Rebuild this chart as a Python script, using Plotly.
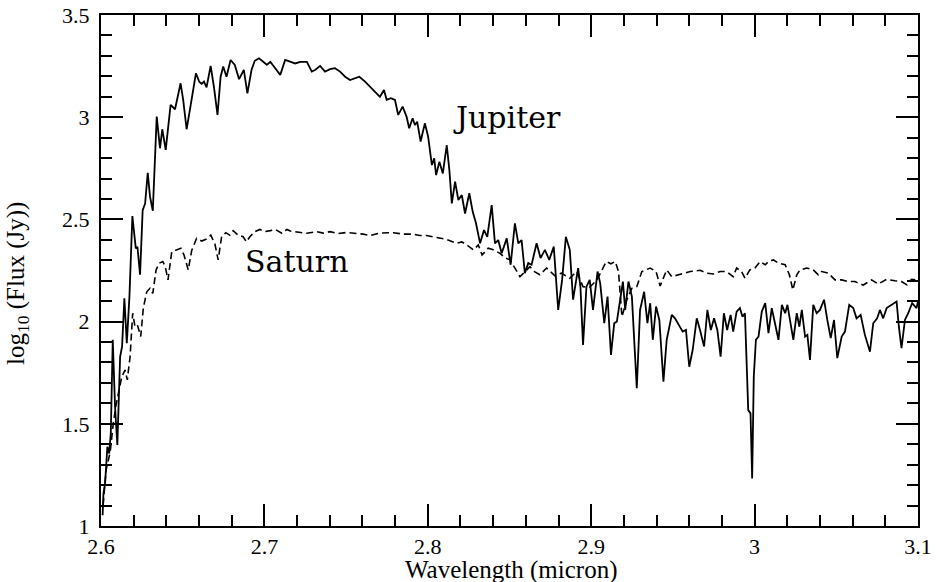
import plotly.graph_objects as go

# Jupiter spectrum (wavelength in micron, log10 flux in Jy)
jup_wl = [2.6010, 2.6015, 2.6025, 2.6039, 2.6050, 2.6060, 2.6072, 2.6086, 2.6100, 2.6117,
          2.6129, 2.6143, 2.6158, 2.6174, 2.6192, 2.6213, 2.6223, 2.6239, 2.6255, 2.6270,
          2.6286, 2.6300, 2.6317, 2.6341, 2.6361, 2.6375, 2.6396, 2.6426, 2.6453, 2.6487,
          2.6503, 2.6524, 2.6544, 2.6581, 2.6601, 2.6616, 2.6630, 2.6646, 2.6671, 2.6691,
          2.6713, 2.6732, 2.6748, 2.6768, 2.6793, 2.6819, 2.6845, 2.6874, 2.6896, 2.6921,
          2.6941, 2.6967, 2.6993, 2.7015, 2.7036, 2.7097, 2.7127, 2.7158, 2.7188, 2.7219,
          2.7260, 2.7290, 2.7310, 2.7341, 2.7371, 2.7402, 2.7432, 2.7463, 2.7494, 2.7524,
          2.7555, 2.7581, 2.7616, 2.7646, 2.7677, 2.7707, 2.7732, 2.7748, 2.7774, 2.7799,
          2.7819, 2.7846, 2.7870, 2.7886, 2.7907, 2.7921, 2.7935, 2.7956, 2.7982, 2.8002,
          2.8025, 2.8039, 2.8051, 2.8071, 2.8092, 2.8116, 2.8132, 2.8147, 2.8167, 2.8187,
          2.8208, 2.8228, 2.8254, 2.8275, 2.8295, 2.8320, 2.8344, 2.8364, 2.8391, 2.8411,
          2.8431, 2.8452, 2.8483, 2.8507, 2.8533, 2.8554, 2.8574, 2.8594, 2.8615, 2.8635,
          2.8666, 2.8690, 2.8717, 2.8743, 2.8771, 2.8798, 2.8822, 2.8845, 2.8869, 2.8889,
          2.8920, 2.8934, 2.8950, 2.8971, 2.8991, 2.9011, 2.9039, 2.9055, 2.9080, 2.9100,
          2.9121, 2.9141, 2.9157, 2.9177, 2.9194, 2.9208, 2.9228, 2.9249, 2.9279, 2.9299,
          2.9324, 2.9344, 2.9361, 2.9377, 2.9397, 2.9417, 2.9442, 2.9462, 2.9493, 2.9513,
          2.9539, 2.9560, 2.9580, 2.9600, 2.9621, 2.9646, 2.9666, 2.9691, 2.9711, 2.9732,
          2.9752, 2.9772, 2.9792, 2.9812, 2.9832, 2.9853, 2.9869, 2.9890, 2.9910, 2.9926,
          2.9941, 2.9961, 2.9975, 2.9985, 2.9995, 3.0008, 3.0024, 3.0044, 3.0065, 3.0085,
          3.0105, 3.0126, 3.0146, 3.0167, 3.0187, 3.0201, 3.0217, 3.0237, 3.0258, 3.0274,
          3.0289, 3.0309, 3.0323, 3.0339, 3.0359, 3.0380, 3.0400, 3.0425, 3.0445, 3.0466,
          3.0486, 3.0506, 3.0533, 3.0553, 3.0579, 3.0604, 3.0624, 3.0649, 3.0675, 3.0706,
          3.0726, 3.0750, 3.0767, 3.0787, 3.0808, 3.0838, 3.0869, 3.0883, 3.0899, 3.0920,
          3.0940, 3.0964, 3.0991, 3.1000]
jup_flux = [1.053, 1.159, 1.208, 1.388, 1.355, 1.454, 1.911, 1.583, 1.396, 1.828,
            1.878, 2.114, 1.894, 2.122, 2.516, 2.358, 2.366, 2.229, 2.545, 2.578,
            2.728, 2.611, 2.542, 3.003, 2.848, 2.941, 2.840, 3.060, 3.039, 3.166,
            3.085, 2.941, 3.036, 3.215, 3.174, 3.163, 3.174, 3.146, 3.251, 3.149,
            3.011, 3.198, 3.248, 3.198, 3.280, 3.256, 3.186, 3.231, 3.117, 3.231,
            3.276, 3.288, 3.271, 3.256, 3.271, 3.207, 3.280, 3.271, 3.263, 3.271,
            3.271, 3.223, 3.231, 3.251, 3.223, 3.235, 3.240, 3.223, 3.198, 3.182,
            3.191, 3.198, 3.174, 3.149, 3.125, 3.100, 3.133, 3.085, 3.093, 3.085,
            3.011, 3.052, 3.003, 2.946, 2.995, 2.962, 2.978, 2.881, 2.970, 2.905,
            2.766, 2.799, 2.717, 2.782, 2.725, 2.864, 2.741, 2.578, 2.685, 2.595,
            2.619, 2.529, 2.628, 2.537, 2.481, 2.383, 2.448, 2.415, 2.570, 2.383,
            2.399, 2.334, 2.407, 2.278, 2.481, 2.383, 2.399, 2.237, 2.286, 2.278,
            2.383, 2.311, 2.351, 2.302, 2.367, 2.057, 2.204, 2.415, 2.351, 2.107,
            2.262, 2.171, 1.886, 2.171, 2.204, 2.057, 2.245, 2.188, 1.992, 2.122,
            1.837, 1.992, 2.000, 2.107, 2.196, 2.057, 2.196, 2.122, 1.674, 2.057,
            2.146, 1.992, 2.090, 1.911, 2.074, 2.008, 1.706, 1.911, 2.033, 2.016,
            1.983, 1.951, 1.959, 1.779, 1.861, 2.016, 1.959, 1.878, 2.057, 1.959,
            2.016, 1.959, 1.828, 2.041, 1.959, 2.033, 1.951, 2.049, 2.066, 2.024,
            2.041, 1.567, 1.551, 1.233, 1.730, 1.911, 1.927, 2.049, 2.090, 1.944,
            2.066, 1.992, 1.911, 2.082, 2.041, 2.082, 2.008, 1.911, 2.041, 1.975,
            2.057, 1.927, 1.935, 1.812, 2.082, 2.041, 2.057, 2.107, 2.008, 1.919,
            2.008, 1.821, 1.927, 1.951, 2.082, 2.066, 2.016, 2.033, 1.935, 1.853,
            1.992, 2.016, 2.057, 2.016, 2.066, 2.082, 2.098, 1.975, 1.870, 2.008,
            2.041, 2.090, 2.066, 2.100]

# Saturn spectrum
sat_wl = [2.6013, 2.6031, 2.6056, 2.6074, 2.6092, 2.6107, 2.6127, 2.6147, 2.6161, 2.6178,
          2.6194, 2.6208, 2.6223, 2.6243, 2.6259, 2.6280, 2.6300, 2.6317, 2.6337, 2.6357,
          2.6378, 2.6393, 2.6410, 2.6433, 2.6461, 2.6489, 2.6508, 2.6534, 2.6555, 2.6585,
          2.6616, 2.6646, 2.6672, 2.6697, 2.6717, 2.6738, 2.6764, 2.6788, 2.6809, 2.6839,
          2.6870, 2.6890, 2.6911, 2.6941, 2.6972, 2.7002, 2.7036, 2.7066, 2.7107, 2.7138,
          2.7158, 2.7199, 2.7260, 2.7321, 2.7360, 2.7402, 2.7451, 2.7504, 2.7555, 2.7605,
          2.7646, 2.7707, 2.7788, 2.7849, 2.7910, 2.7951, 2.7992, 2.8055, 2.8116, 2.8177,
          2.8208, 2.8239, 2.8279, 2.8309, 2.8332, 2.8370, 2.8401, 2.8442, 2.8472, 2.8503,
          2.8533, 2.8564, 2.8594, 2.8625, 2.8655, 2.8686, 2.8727, 2.8778, 2.8818, 2.8869,
          2.8910, 2.8950, 2.8991, 2.9035, 2.9066, 2.9092, 2.9121, 2.9147, 2.9167, 2.9188,
          2.9218, 2.9249, 2.9279, 2.9310, 2.9361, 2.9397, 2.9422, 2.9447, 2.9462, 2.9493,
          2.9544, 2.9606, 2.9667, 2.9707, 2.9748, 2.9789, 2.9829, 2.9869, 2.9890, 2.9920,
          2.9941, 2.9971, 3.0002, 3.0034, 3.0065, 3.0085, 3.0115, 3.0146, 3.0187, 3.0213,
          3.0234, 3.0258, 3.0278, 3.0319, 3.0359, 3.0390, 3.0411, 3.0451, 3.0492, 3.0533,
          3.0573, 3.0614, 3.0665, 3.0716, 3.0756, 3.0808, 3.0858, 3.0899, 3.0933, 3.0960,
          3.0991, 3.1000]
sat_flux = [1.102, 1.274, 1.361, 1.494, 1.592, 1.649, 1.730, 1.763, 1.715, 1.828,
            2.041, 1.975, 1.983, 1.927, 2.066, 2.146, 2.163, 2.138, 2.253, 2.286,
            2.294, 2.269, 2.204, 2.342, 2.351, 2.359, 2.326, 2.253, 2.348, 2.407,
            2.394, 2.404, 2.423, 2.380, 2.302, 2.415, 2.435, 2.423, 2.445, 2.423,
            2.415, 2.390, 2.415, 2.440, 2.451, 2.440, 2.445, 2.451, 2.432, 2.451,
            2.443, 2.440, 2.432, 2.440, 2.433, 2.440, 2.431, 2.436, 2.433, 2.428,
            2.421, 2.433, 2.435, 2.428, 2.428, 2.421, 2.421, 2.412, 2.402, 2.383,
            2.390, 2.375, 2.351, 2.375, 2.326, 2.359, 2.351, 2.334, 2.312, 2.302,
            2.263, 2.220, 2.243, 2.269, 2.243, 2.229, 2.262, 2.224, 2.237, 2.212,
            2.245, 2.171, 2.168, 2.204, 2.253, 2.294, 2.283, 2.294, 2.245, 2.024,
            2.107, 2.163, 2.171, 2.245, 2.262, 2.245, 2.174, 2.229, 2.253, 2.220,
            2.233, 2.245, 2.251, 2.237, 2.233, 2.245, 2.245, 2.220, 2.262, 2.245,
            2.212, 2.253, 2.262, 2.294, 2.278, 2.294, 2.302, 2.286, 2.278, 2.229,
            2.155, 2.229, 2.253, 2.262, 2.253, 2.229, 2.245, 2.237, 2.204, 2.204,
            2.196, 2.196, 2.179, 2.204, 2.184, 2.207, 2.200, 2.196, 2.179, 2.207,
            2.204, 2.204]

x_range = [2.6, 3.1]
x_major_step = 0.1
x_minor_step = 0.02
y_range = [1.0, 3.5]
y_major_step = 0.5
y_minor_step = 0.1

labels = ["Jupiter", "Saturn"]
label_x = [2.8485, 2.7196]
label_y = [3.0, 2.292]

fig = go.Figure()
fig.add_trace(go.Scatter(x=jup_wl, y=jup_flux, mode="lines",
                         line=dict(color="black", width=1.8), showlegend=False))
fig.add_trace(go.Scatter(x=sat_wl, y=sat_flux, mode="lines",
                         line=dict(color="black", width=1.6, dash="7px,4px"),
                         showlegend=False))
# invisible helper trace so the overlaid minor-tick axes are drawn
fig.add_trace(go.Scatter(x=x_range, y=y_range, xaxis="x2", yaxis="y2", mode="lines",
                         line=dict(width=0, color="rgba(0,0,0,0)"), opacity=0,
                         hoverinfo="skip", showlegend=False))

for t, xx, yy in zip(labels, label_x, label_y):
    fig.add_annotation(x=xx, y=yy, text=t, showarrow=False,
                       font=dict(family="DejaVu Serif", size=30, color="black"),
                       xanchor="center", yanchor="middle")

# axis titles as paper-positioned annotations
fig.add_annotation(xref="paper", yref="paper", x=0.503, y=0, yshift=-44,
                   text="Wavelength (micron)", showarrow=False,
                   font=dict(family="Liberation Serif", size=25, color="black"),
                   xanchor="center", yanchor="middle")
fig.add_annotation(xref="paper", yref="paper", x=0, y=0.4736, xshift=-83,
                   text="log<sub>10</sub> (Flux (Jy))", showarrow=False, textangle=-90,
                   font=dict(family="Liberation Serif", size=25, color="black"),
                   xanchor="center", yanchor="middle")

tickfont = dict(family="Liberation Serif", size=22, color="black")
major = dict(showline=True, linecolor="black", linewidth=2, mirror="ticks",
             ticks="inside", ticklen=22, tickwidth=1.5, tickcolor="black",
             showgrid=False, zeroline=False, tickfont=tickfont, tickmode="linear")
minor = dict(showline=False, mirror="ticks", ticks="inside", ticklen=11,
             tickwidth=1.5, tickcolor="black", showgrid=False, zeroline=False,
             showticklabels=False, tickmode="linear")

fig.update_layout(
    xaxis=dict(range=x_range, tick0=x_range[0], dtick=x_major_step,
               ticklabelstandoff=0, **major),
    yaxis=dict(range=y_range, tick0=y_range[0], dtick=y_major_step,
               ticklabelstandoff=5, **major),
    xaxis2=dict(range=x_range, tick0=x_range[0], dtick=x_minor_step,
                overlaying="x", anchor="y2", side="bottom", **minor),
    yaxis2=dict(range=y_range, tick0=y_range[0], dtick=y_minor_step,
                overlaying="y", anchor="x2", side="left", **minor),
    width=938, height=582,
    margin=dict(l=101, r=20, t=15, b=56, autoexpand=False),
    paper_bgcolor="white", plot_bgcolor="white")

fig.write_html("out.html", config={"displayModeBar": False},
               post_script="document.body.style.margin='0';document.body.style.padding='0';")
